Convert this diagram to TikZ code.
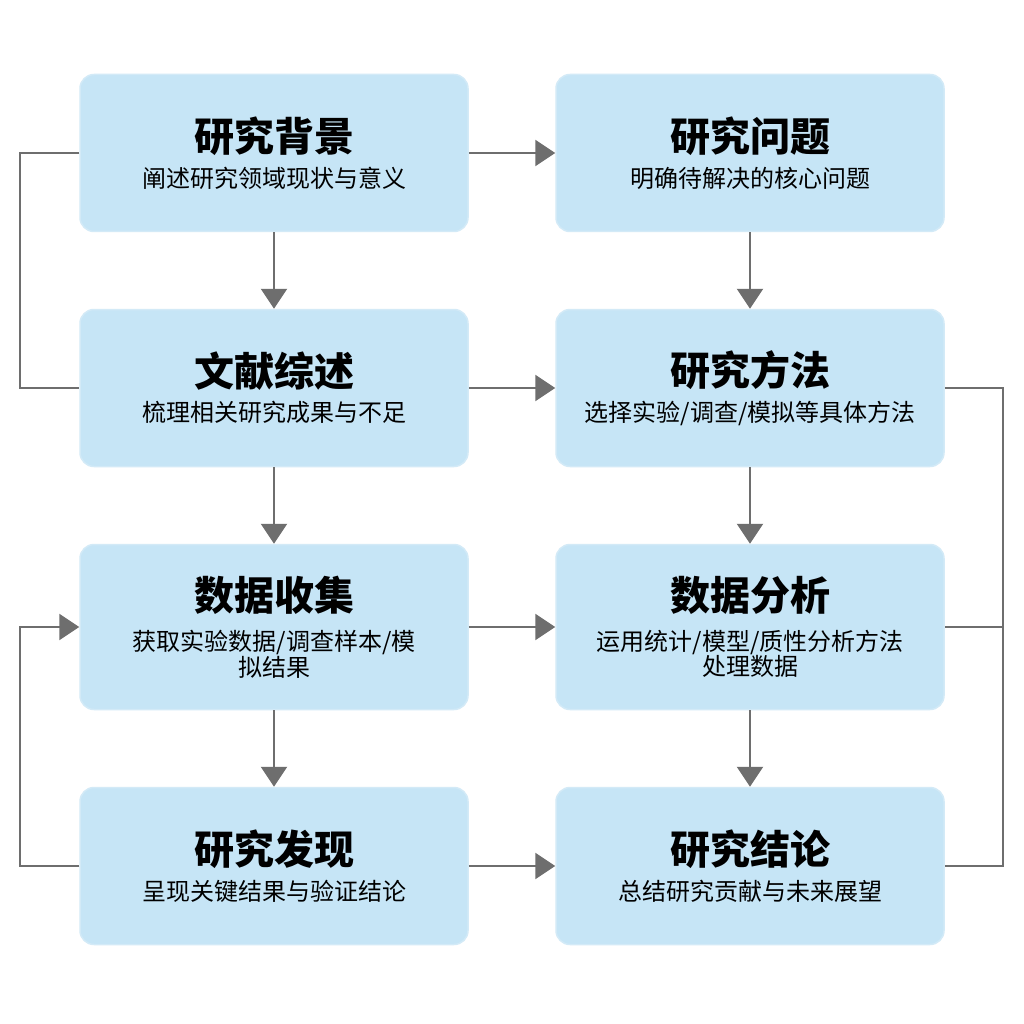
\documentclass[tikz,border=0pt]{standalone}
\usepackage{fontspec}
\setmainfont{Noto Sans CJK SC}
\usetikzlibrary{arrows.meta}
\definecolor{boxfill}{HTML}{C6E5F6}
\definecolor{boxline}{HTML}{D3EAF7}
\definecolor{arr}{HTML}{6E6E6E}
\begin{document}
\begin{tikzpicture}[x=1pt,y=-1pt,
  box/.style={draw=boxline,line width=1.5pt,fill=boxfill,rounded corners=14pt,minimum width=388pt,minimum height=157pt,align=center,text width=360pt,inner sep=0pt},
  ar/.style={draw=arr,line width=2.5pt,-{Triangle[length=20pt,width=26pt]}},
  ln/.style={draw=arr,line width=2.5pt}]
\fill[white] (0,0) rectangle (1024,1024);
\newcommand{\bx}[4]{\node[box] (#1) at #2 {{\fontsize{40}{48}\selectfont\bfseries #3}\\[10pt]{\fontsize{24}{30}\selectfont #4}};}
\bx{b1}{(274,153)}{研究背景}{阐述研究领域现状与意义}
\bx{b2}{(750,153)}{研究问题}{明确待解决的核心问题}
\bx{b3}{(274,388)}{文献综述}{梳理相关研究成果与不足}
\bx{b4}{(750,388)}{研究方法}{选择实验/调查/模拟等具体方法}
\node[box,minimum height=165pt] (b5) at (274,627) {{\fontsize{40}{48}\selectfont\bfseries 数据收集}\\[10pt]{\fontsize{24}{30}\selectfont 获取实验数据/调查样本/模\\拟结果}};
\node[box,minimum height=165pt] (b6) at (750,627) {{\fontsize{40}{48}\selectfont\bfseries 数据分析}\\[10pt]{\fontsize{24}{30}\selectfont 运用统计/模型/质性分析方法\\处理数据}};
\bx{b7}{(274,866)}{研究发现}{呈现关键结果与验证结论}
\bx{b8}{(750,866)}{研究结论}{总结研究贡献与未来展望}
\foreach \a/\b in {b1/b3,b3/b5,b5/b7,b2/b4,b4/b6,b6/b8}{\draw[ar] (\a.south) -- (\b.north);}
\foreach \a/\b in {b1/b2,b3/b4,b5/b6,b7/b8}{\draw[ar] (\a.east) -- (\b.west);}
\coordinate (l1) at (20,153); \coordinate (l2) at (20,388);
\draw[ln] (b1.west) -- (l1) -- (l2) -- (b3.west);
\coordinate (l3) at (20,866); \coordinate (l4) at (20,627);
\draw[ar] (b7.west) -- (l3) -- (l4) -- (b5.west);
\coordinate (r1) at (1003,388); \coordinate (r2) at (1003,627); \coordinate (r3) at (1003,866);
\draw[ln] (b4.east) -- (r1) -- (r3) -- (b8.east);
\draw[ln] (r2) -- (b6.east);
\end{tikzpicture}
\end{document}
